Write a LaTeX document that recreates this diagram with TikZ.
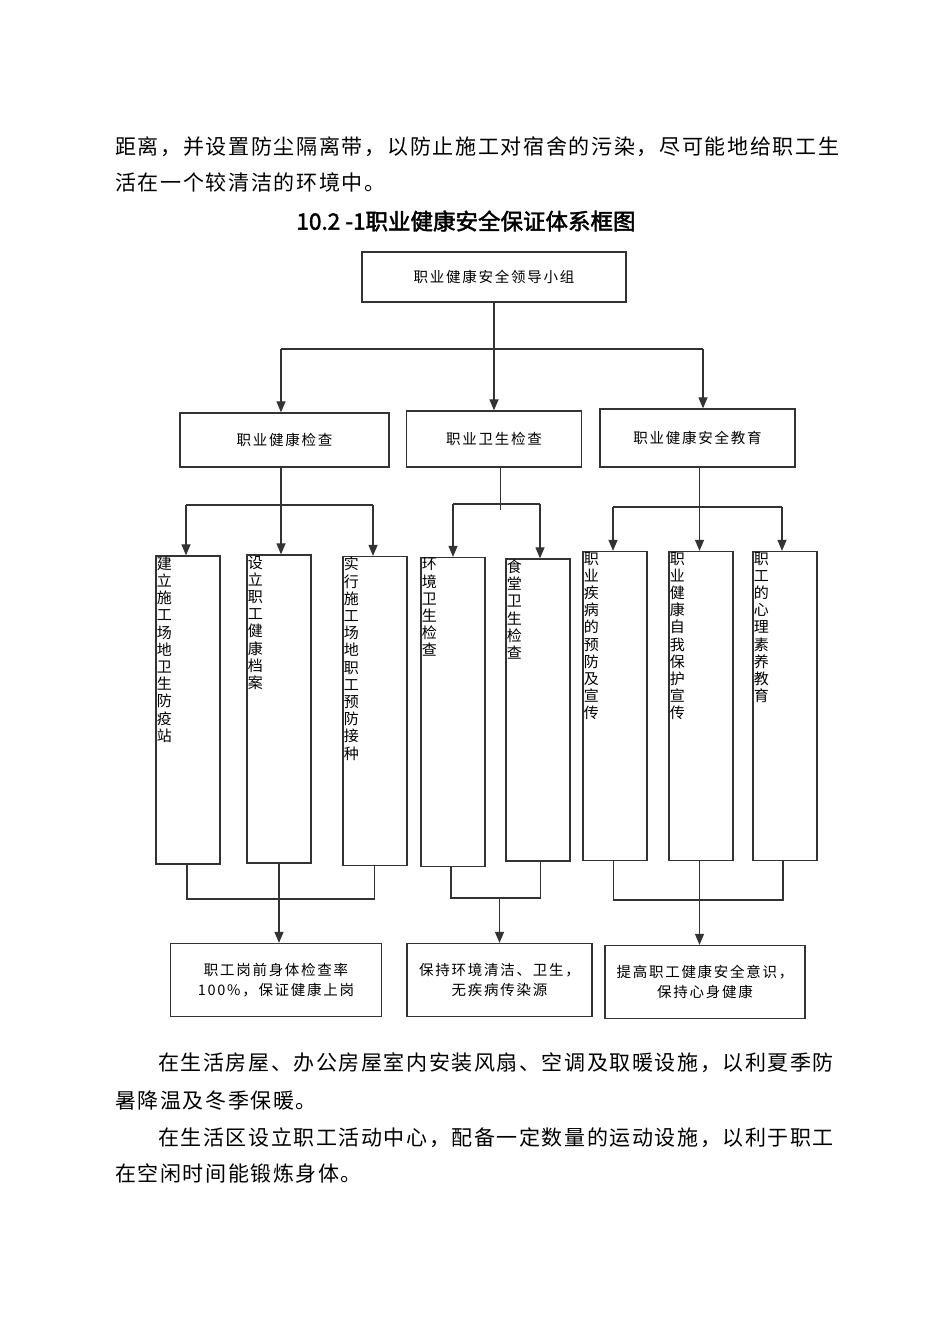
\documentclass[tikz,border=0pt]{standalone}
\usepackage{fontspec}
\setmainfont{Noto Sans CJK SC}
\newfontfamily\titlefont[FakeBold=2]{Noto Sans CJK SC}
\usetikzlibrary{arrows.meta,positioning}
\XeTeXlinebreaklocale "zh"
\XeTeXlinebreakskip=0pt plus 1pt

\newcommand\parafont{\fontsize{21}{25}\selectfont\addfontfeatures{LetterSpace=8}}
\newcommand\parafontb{\fontsize{21}{25}\selectfont\addfontfeatures{LetterSpace=7.5}}
\newcommand\boxfont{\fontsize{14.5}{20}\selectfont\addfontfeatures{LetterSpace=12}}
\newcommand\vfont{\fontsize{15}{17.2}\selectfont}

\tikzset{
  line/.style={line width=1.2pt, draw=black!80},
  arr/.style={line, -{Triangle[width=9pt,length=11pt]}},
  box/.style={draw=black!80, line width=1.3pt, inner sep=0pt, font=\boxfont, align=center},
  tallbox/.style={draw=black!80, line width=1.3pt, inner sep=0pt, minimum width=64pt},
  vlabel/.style={anchor=north west, inner sep=1.2pt, text width=15pt, align=left, font=\vfont},
  para/.style={anchor=west, inner sep=0pt, font=\parafont},
  parab/.style={anchor=west, inner sep=0pt, font=\parafontb},
}

\begin{document}
\begin{tikzpicture}[x=1pt,y=-1pt]
  \fill[white] (0,0) rectangle (950,1344);
  \useasboundingbox (0,0) rectangle (950,1344);

  % text above the chart
  \node[para] (p1) at (115,147) {距离，并设置防尘隔离带，以防止施工对宿舍的污染，尽可能地给职工生};
  \node[para] (p2) at (115,182) {活在一个较清洁的环境中。};
  \node[font=\titlefont\fontsize{22.5}{26}\selectfont] (title) at (466,221) {10.2 -1职业健康安全保证体系框图};

  % top and second level boxes
  \node[box, minimum width=264pt, minimum height=50pt] (lead) at (494,277) {职业健康安全领导小组};
  \node[box, minimum width=209pt, minimum height=54pt] (chk) at (284.5,440) {职业健康检查};
  \node[box, minimum width=175pt, minimum height=56pt] (hyg) at (494,439) {职业卫生检查};
  \node[box, minimum width=195pt, minimum height=58pt] (edu) at (697.5,438) {职业健康安全教育};

  % tall boxes with vertical text
  \foreach \n/\x/\y/\h/\t in {jc1/188/710/308/建立施工场地卫生防疫站,
      jc2/279/709/308/设立职工健康档案,
      jc3/375/711/309/实行施工场地职工预防接种,
      jc4/453/712/309/环境卫生检查,
      jc5/538/710/302/食堂卫生检查,
      jc6/615/706/309/职业疾病的预防及宣传,
      jc7/701/706/309/职业健康自我保护宣传,
      jc8/785/706/309/职工的心理素养教育} {
    \node[tallbox, minimum height=\h pt] (\n) at (\x,\y) {};
    \node[vlabel] (\n-t) at (\n.north west) {\t};
  }

  % result boxes
  \node[box, minimum width=211pt, minimum height=73pt] (res1) at (276,980) {职工岗前身体检查率\\100\%，保证健康上岗};
  \node[box, minimum width=185pt, minimum height=73pt] (res2) at (499.5,980) {保持环境清洁、卫生，\\无疾病传染源};
  \node[box, minimum width=200pt, minimum height=73pt] (res3) at (705,982) {提高职工健康安全意识，\\保持心身健康};

  % text below the chart
  \node[parab] (p3) at (158,1063) {在生活房屋、办公房屋室内安装风扇、空调及取暖设施，以利夏季防};
  \node[parab] (p4) at (115,1101) {暑降温及冬季保暖。};
  \node[parab] (p5) at (158,1138) {在生活区设立职工活动中心，配备一定数量的运动设施，以利于职工};
  \node[parab] (p6) at (115,1174) {在空闲时间能锻炼身体。};

  % lead to second level
  \coordinate (b1l) at (281,349);
  \coordinate (b1r) at (703,349);
  \draw[line] (b1l) -- (b1r);
  \draw[arr] (lead.south) -- (hyg.north);
  \draw[arr] (b1l) -- (b1l |- chk.north);
  \draw[arr] (b1r) -- (b1r |- edu.north);

  % second level to tall boxes
  \coordinate (b2l) at (186,505);
  \coordinate (b2r) at (373,505);
  \draw[line] (b2l) -- (b2r);
  \draw[arr] (b1l |- chk.south) -- (b1l |- jc2.north);
  \draw[arr] (b2l) -- (b2l |- jc1.north);
  \draw[arr] (b2r) -- (b2r |- jc3.north);

  \coordinate (b3l) at (453,504);
  \coordinate (b3r) at (540,504);
  \coordinate (b3m) at (500.5,510);
  \draw[line] (b3l) -- (b3r);
  \draw[line] (b3m |- hyg.south) -- (b3m);
  \draw[arr] (b3l) -- (b3l |- jc4.north);
  \draw[arr] (b3r) -- (b3r |- jc5.north);

  \coordinate (b4l) at (613,507);
  \coordinate (b4r) at (782,507);
  \coordinate (b4m) at (699.5,507);
  \draw[line] (b4l) -- (b4r);
  \draw[arr] (b4m |- edu.south) -- (b4m |- jc7.north);
  \draw[arr] (b4l) -- (b4l |- jc6.north);
  \draw[arr] (b4r) -- (b4r |- jc8.north);

  % tall boxes to results
  \coordinate (c1l) at (187,899);
  \coordinate (c1r) at (374.5,899);
  \draw[line] (c1l |- jc1.south) -- (c1l) -- (c1r) -- (c1r |- jc3.south);
  \draw[arr] (jc2.south) -- (jc2.south |- res1.north);

  \coordinate (c2l) at (451,898);
  \coordinate (c2r) at (540.5,898);
  \coordinate (c2m) at (499.5,898);
  \draw[line] (c2l |- jc4.south) -- (c2l) -- (c2r) -- (c2r |- jc5.south);
  \draw[arr] (c2m) -- (c2m |- res2.north);

  \coordinate (c3l) at (613.5,900);
  \coordinate (c3r) at (783,900);
  \draw[line] (c3l |- jc6.south) -- (c3l) -- (c3r) -- (c3r |- jc8.south);
  \draw[arr] (b4m |- jc7.south) -- (b4m |- res3.north);
\end{tikzpicture}
\end{document}
